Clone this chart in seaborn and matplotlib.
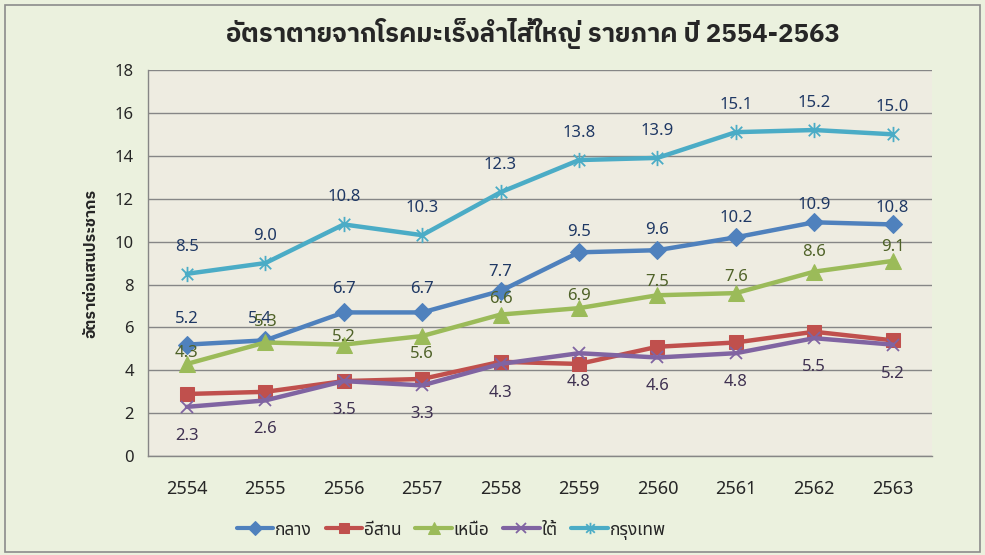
import matplotlib
matplotlib.use('Agg')
import numpy as np
import pandas as pd
import matplotlib.pyplot as plt
import seaborn as sns
from matplotlib.path import Path
from matplotlib.patches import Rectangle

# values
years = ['2554', '2555', '2556', '2557', '2558', '2559', '2560', '2561', '2562', '2563']
klang = [5.2, 5.4, 6.7, 6.7, 7.7, 9.5, 9.6, 10.2, 10.9, 10.8]
isan = [2.9, 3.0, 3.5, 3.6, 4.4, 4.3, 5.1, 5.3, 5.8, 5.4]
nuea = [4.3, 5.3, 5.2, 5.6, 6.6, 6.9, 7.5, 7.6, 8.6, 9.1]
tai = [2.3, 2.6, 3.5, 3.3, 4.3, 4.8, 4.6, 4.8, 5.5, 5.2]
bkk = [8.5, 9.0, 10.8, 10.3, 12.3, 13.8, 13.9, 15.1, 15.2, 15.0]
regions = ['กลาง', 'อีสาน', 'เหนือ', 'ใต้', 'กรุงเทพ']

df = pd.DataFrame({'x': np.arange(len(years)), 'กลาง': klang, 'อีสาน': isan,
                   'เหนือ': nuea, 'ใต้': tai, 'กรุงเทพ': bkk})

sns.set_style('white')
plt.rcParams['font.family'] = ['Noto Sans', 'Noto Sans Thai', 'DejaVu Sans']
bold_font = ['IBM Plex Sans Thai', 'DejaVu Sans']

# asterisk marker: x plus a vertical bar
star = Path([(0, -1), (0, 1), (-0.75, -0.75), (0.75, 0.75), (-0.75, 0.75), (0.75, -0.75)],
            [Path.MOVETO, Path.LINETO, Path.MOVETO, Path.LINETO, Path.MOVETO, Path.LINETO])

styles = {
    'กลาง': dict(color='#4F81BD', marker='D', markersize=9),
    'อีสาน': dict(color='#C0504D', marker='s', markersize=10),
    'เหนือ': dict(color='#9BBB59', marker='^', markersize=11),
    'ใต้': dict(color='#8064A2', marker='x', markersize=9, mew=1.3),
    'กรุงเทพ': dict(color='#4BACC6', marker=star, markersize=11, mew=1.3),
}

fig = plt.figure(figsize=(9.85, 5.55), dpi=100, facecolor='#EBF1DE')
ax = fig.add_axes([0.150, 0.178, 0.796, 0.696])
ax.set_facecolor('#EEECE1')
fig.patches.append(Rectangle((0.005, 0.006), 0.99, 0.985, transform=fig.transFigure,
                             fill=False, edgecolor='#8C8C8C', linewidth=1.2))

for r in regions:
    st = styles[r]
    sns.lineplot(data=df, x='x', y=r, ax=ax, label=r, linewidth=3.2,
                 markeredgecolor=st['color'], **st)

# data labels (offsets in pixels, positive = above)
lbl = {
    'กลาง': ('#1F3864', [26, 21, 23, 23, 19, 20, 20, 19, 17, 16]),
    'เหนือ': ('#4F6228', [11, 20, 8, -18, 16, 12, 13, 16, 20, 14]),
    'ใต้': ('#3F3151', [-29] * 10),
    'กรุงเทพ': ('#1F3864', [27] * 10),
}
for r, (c, offs) in lbl.items():
    for i, v in enumerate(df[r]):
        dx = -5 if (r == 'กลาง' and i == 1) else 0
        ax.annotate(f'{v:.1f}', (i, v), xytext=(dx * 0.72, offs[i] * 0.72),
                    textcoords='offset points', ha='center', va='center',
                    fontsize=12, color=c)

ax.set_xlim(-0.5, len(years) - 0.5)
ax.set_ylim(0, 18)
ax.set_yticks(np.arange(0, 19, 2))
ax.set_xticks(np.arange(len(years)))
ax.set_xticklabels(years)
ax.set_xticks(np.arange(-0.5, len(years)), minor=True)
ax.tick_params(axis='x', which='major', length=0, pad=17, labelsize=13)
ax.tick_params(axis='x', which='minor', length=7, width=1, color='#868686', direction='out')
ax.tick_params(axis='y', length=6, width=1, color='#868686', direction='out', labelsize=12, pad=4)
ax.grid(axis='y', color='#868686', linewidth=1)
ax.set_axisbelow(True)
for s in ['top', 'right']:
    ax.spines[s].set_visible(False)
for s in ['left', 'bottom']:
    ax.spines[s].set_color('#868686')
    ax.spines[s].set_linewidth(1)

ax.set_xlabel('')
ax.set_ylabel('')
fig.text(0.092, 0.526, 'อัตราต่อแสนประชากร', rotation=90, ha='center', va='center',
         fontsize=11.5, fontweight='bold', family=bold_font)
fig.text(0.541, 0.94, 'อัตราตายจากโรคมะเร็งลำไส้ใหญ่ รายภาค ปี 2554-2563',
         ha='center', va='center', fontsize=18.5, fontweight='bold', family=bold_font)

leg = ax.legend(loc='center', bbox_to_anchor=(0.458, 0.045), bbox_transform=fig.transFigure,
                ncol=5, frameon=False, fontsize=12.5, handlelength=2.1, handletextpad=0.1,
                columnspacing=0.8, numpoints=1)
for h in leg.legend_handles:
    h.set_markersize(h.get_markersize() * 0.75)
    h.set_linewidth(3)

fig.savefig('out.png', dpi=100, facecolor=fig.get_facecolor())
